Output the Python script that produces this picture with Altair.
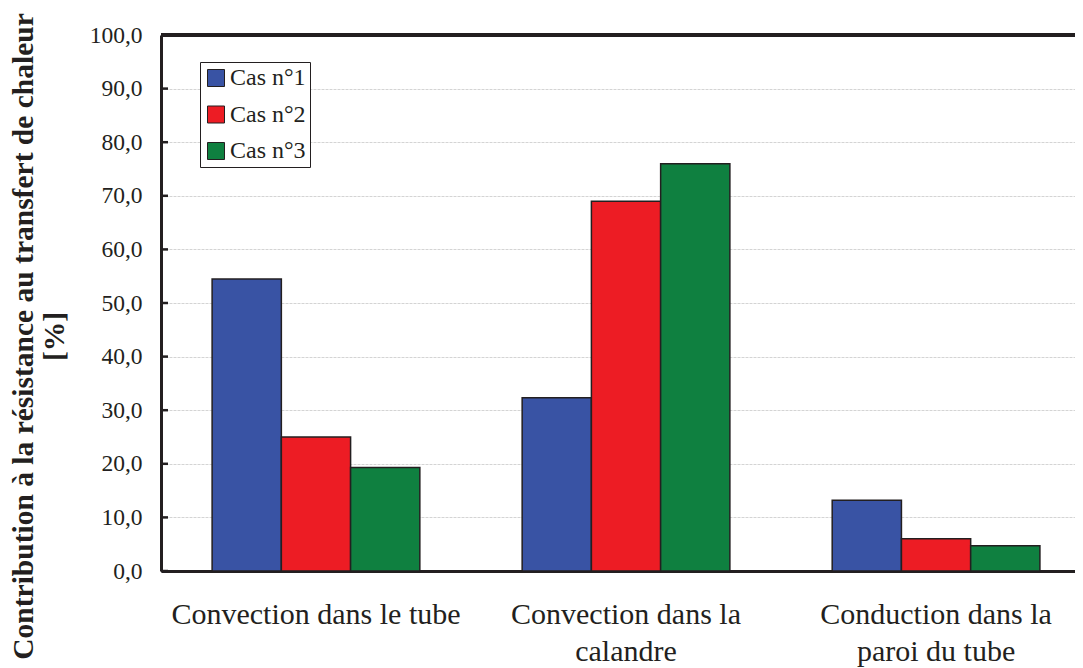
import altair as alt
import pandas as pd

categories = ["Convection dans le tube", "Convection dans la calandre", "Conduction dans la paroi du tube"]
cases = ["Cas n°1", "Cas n°2", "Cas n°3"]
cas1 = [54.5, 32.3, 13.2]
cas2 = [25.0, 69.0, 6.0]
cas3 = [19.3, 76.0, 4.7]
y_ticks = [0, 10, 20, 30, 40, 50, 60, 70, 80, 90, 100]
colors = ["#3953A4", "#ED1C24", "#0F8040"]

rows = []
for cas, vals in zip(cases, [cas1, cas2, cas3]):
    for cat, v in zip(categories, vals):
        rows.append({"cat": cat, "cas": cas, "val": v})
df = pd.DataFrame(rows)
ticks_df = pd.DataFrame({"t": y_ticks})

FONT = "'Times New Roman', 'Liberation Serif', 'DejaVu Serif', serif"
INK = "#231F20"

label_expr = ("datum.label == 'Convection dans la calandre' ? ['Convection dans la', 'calandre'] : "
              "datum.label == 'Conduction dans la paroi du tube' ? ['Conduction dans la', 'paroi du tube'] : datum.label")

bars = alt.Chart(df).mark_bar(stroke=INK, strokeWidth=1.5).encode(
    x=alt.X("cat:N", sort=categories,
            scale=alt.Scale(paddingInner=0.33, paddingOuter=0.139, align=0.593),
            axis=alt.Axis(title=None, labelAngle=0, labelFont=FONT, labelFontSize=30,
                          labelColor=INK, labelPadding=28, labelLineHeight=37,
                          labelExpr=label_expr, labelLimit=0, ticks=False, domainWidth=3,
                          domainColor=INK, grid=False, labelBaseline="top")),
    xOffset=alt.XOffset("cas:N", sort=cases, scale=alt.Scale(paddingInner=0, paddingOuter=0)),
    y=alt.Y("val:Q", scale=alt.Scale(domain=[0, 100], nice=False),
            axis=alt.Axis(values=y_ticks, labelExpr="replace(format(datum.value, '.1f'), '.', ',')",
                          title=["Contribution à la résistance au transfert de chaleur", "[%]"],
                          titleFont=FONT, titleFontSize=29.5, titleFontWeight="bold",
                          titleColor=INK, titleAngle=-90, titleX=-152, titleY=301,
                          titleAlign="center", titleBaseline="top", titleLineHeight=31,
                          titleLimit=0,
                          labelFont=FONT, labelFontSize=23.5, labelColor=INK,
                          labelPadding=19, ticks=False, domainWidth=3, domainColor=INK,
                          grid=True, gridColor="#d4d4d4", gridWidth=1, gridDash=[3, 1])),
    color=alt.Color("cas:N", sort=cases, scale=alt.Scale(domain=cases, range=colors),
                    legend=alt.Legend(title=None, orient="none", legendX=39, legendY=27,
                                      padding=4, strokeColor=INK, fillColor="white",
                                      symbolType="square", symbolSize=289,
                                      symbolStrokeColor=INK, symbolStrokeWidth=1,
                                      labelFont=FONT, labelFontSize=24, labelColor=INK,
                                      labelOffset=2, rowPadding=12.5)),
)

tick_marks = alt.Chart(ticks_df).mark_rule(color=INK, strokeWidth=2.5).encode(
    y=alt.Y("t:Q"),
    x=alt.value(0),
    x2=alt.value(7),
)

top_border = alt.Chart(ticks_df).mark_rule(color=INK, strokeWidth=3).encode(
    y=alt.datum(100),
    x=alt.value(0),
    x2=alt.value(914),
)

chart = alt.layer(bars, tick_marks, top_border).properties(
    width=914, height=536,
    autosize=alt.AutoSizeParams(type="none"),
    padding={"left": 153, "top": 27, "right": 0, "bottom": 97},
).configure_view(stroke=None).configure(background="white")

chart.save("out.html", embed_options={"renderer": "svg", "actions": False})
